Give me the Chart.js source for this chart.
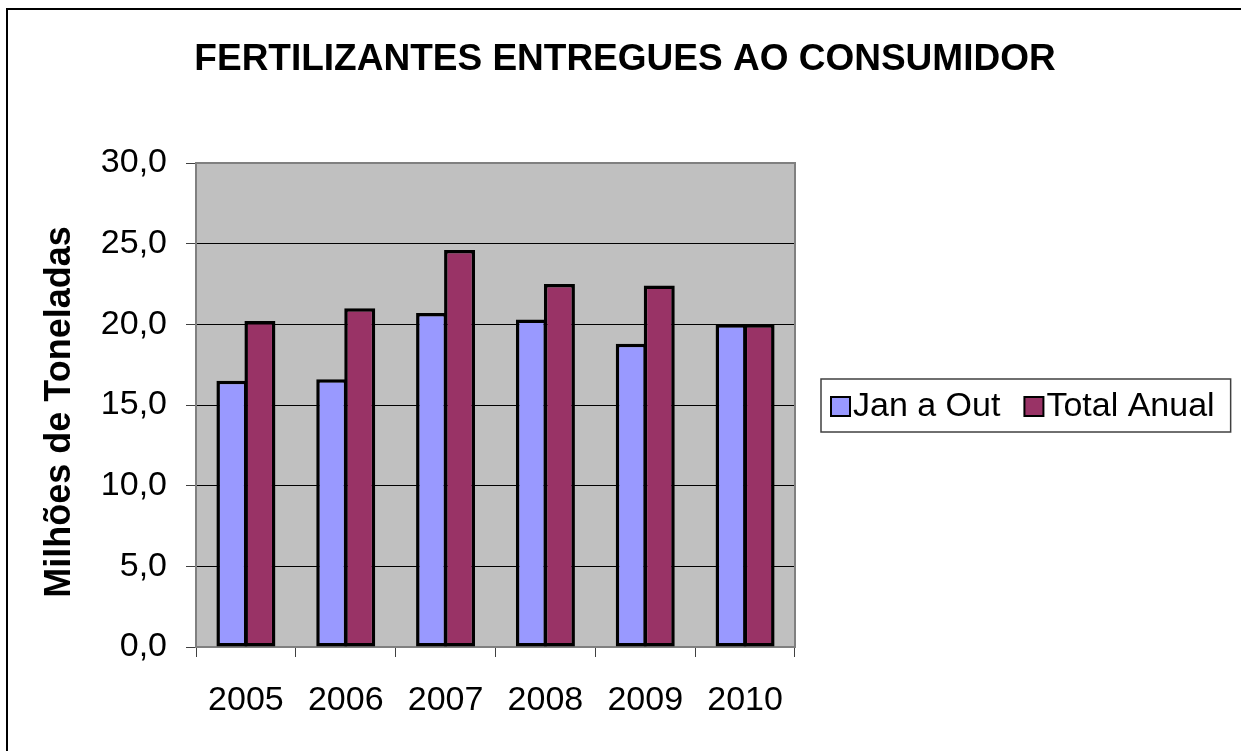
<!DOCTYPE html>
<html>
<head>
<meta charset="utf-8">
<script src="https://cdn.jsdelivr.net/npm/chart.js@4/dist/chart.umd.min.js"></script>
<style>
  body { margin: 0; background: #fff; }
  canvas { display: block; }
</style>
</head>
<body>
<canvas id="grafico" width="1241" height="751"></canvas>
<script>
// Dados (milhões de toneladas)
const anos = ['2005', '2006', '2007', '2008', '2009', '2010'];
const janOut = [16.5, 16.6, 20.7, 20.3, 18.8, 20.0];
const totalAnual = [20.2, 21.0, 24.6, 22.5, 22.4, 20.0];
const nomesSeries = ['Jan a Out', 'Total Anual'];
const coresSeries = ['#9999FF', '#993366'];

const titulo = 'FERTILIZANTES ENTREGUES AO CONSUMIDOR';
const tituloEixoY = 'Milhões de Toneladas';
const fonte = '"Liberation Sans", Arial, sans-serif';

// fundo cinza e moldura da área do gráfico
const fundoPlot = {
  id: 'fundoPlot',
  beforeDraw(chart) {
    const { ctx, chartArea: a } = chart;
    ctx.save();
    ctx.fillStyle = '#C0C0C0';
    ctx.fillRect(a.left, a.top, a.right - a.left, a.bottom - a.top);
    ctx.restore();
  },
  beforeDatasetsDraw(chart) {
    const { ctx, chartArea: a } = chart;
    ctx.save();
    ctx.strokeStyle = '#808080';
    ctx.lineWidth = 2;
    ctx.strokeRect(a.left, a.top, a.right - a.left, a.bottom - a.top);
    ctx.restore();
  }
};

// título, título do eixo, legenda e borda externa desenhados à mão
const extras = {
  id: 'extras',
  afterDraw(chart) {
    const ctx = chart.ctx;
    const a = chart.chartArea;
    ctx.save();

    // borda externa
    ctx.strokeStyle = '#000';
    ctx.lineWidth = 2;
    ctx.strokeRect(7, 9, 1400, 900);

    // título
    ctx.fillStyle = '#000';
    ctx.font = 'bold 37px ' + fonte;
    ctx.textAlign = 'center';
    ctx.textBaseline = 'alphabetic';
    ctx.fillText(titulo, 625, 70);

    // título do eixo Y
    ctx.save();
    ctx.translate(60, (a.top + a.bottom) / 2 + 7);
    ctx.rotate(-Math.PI / 2);
    ctx.font = 'bold 36px ' + fonte;
    ctx.textBaseline = 'middle';
    ctx.fillText(tituloEixoY, 0, 0);
    ctx.restore();

    // legenda
    ctx.font = '34px ' + fonte;
    ctx.textAlign = 'left';
    ctx.textBaseline = 'middle';
    const yMeio = 406;
    let x = 831;
    chart.data.datasets.forEach((ds, i) => {
      ctx.fillStyle = ds.backgroundColor;
      ctx.fillRect(x, yMeio - 9, 19, 19);
      ctx.strokeStyle = '#000';
      ctx.lineWidth = 2;
      ctx.strokeRect(x, yMeio - 9, 19, 19);
      ctx.fillStyle = '#000';
      ctx.fillText(ds.label, x + 22, yMeio + 1);
      x += 22 + ctx.measureText(ds.label).width + 24;
    });
    ctx.strokeStyle = '#404040';
    ctx.lineWidth = 1.5;
    ctx.strokeRect(821, 379, x - 24 + 16 - 821, 53);

    ctx.restore();
  }
};

const dados = {
  labels: anos,
  datasets: [
    { label: nomesSeries[0], data: janOut, backgroundColor: coresSeries[0] },
    { label: nomesSeries[1], data: totalAnual, backgroundColor: coresSeries[1] }
  ]
};

new Chart(document.getElementById('grafico'), {
  type: 'bar',
  data: dados,
  options: {
    responsive: false,
    animation: false,
    layout: { padding: { top: 163, right: 446, bottom: 0, left: 0 } },
    datasets: {
      bar: {
        borderColor: '#000',
        borderWidth: 3.5,
        borderSkipped: false,
        categoryPercentage: 0.561,
        barPercentage: 1.107
      }
    },
    plugins: {
      legend: { display: false },
      title: { display: false },
      tooltip: { enabled: false }
    },
    scales: {
      x: {
        afterFit(scale) { scale.height = 104; },
        grid: {
          display: true,
          drawOnChartArea: false,
          drawTicks: true,
          tickLength: 10,
          tickColor: '#404040',
          offset: true
        },
        border: { display: true, color: '#808080', width: 2 },
        ticks: {
          color: '#000',
          font: { family: fonte, size: 34 },
          padding: 23
        }
      },
      y: {
        min: 0,
        max: 30,
        afterFit(scale) { scale.width = 196; },
        grid: {
          color: '#000',
          lineWidth: 1,
          tickLength: 10,
          tickColor: '#404040'
        },
        border: { display: true, color: '#808080', width: 2 },
        ticks: {
          stepSize: 5,
          color: '#000',
          font: { family: fonte, size: 34 },
          padding: 19,
          callback: v => v.toFixed(1).replace('.', ',')
        }
      }
    }
  },
  plugins: [fundoPlot, extras]
});
</script>
</body>
</html>
